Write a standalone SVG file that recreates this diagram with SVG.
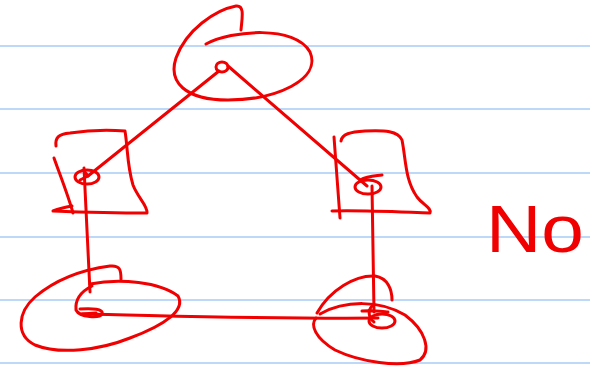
<svg xmlns="http://www.w3.org/2000/svg" width="590" height="371" viewBox="0 0 590 371">
<style>
.rule{stroke:#a8cdf5;stroke-width:1.5}
.ink{fill:none;stroke:#f00000;stroke-width:3;stroke-linecap:round;stroke-linejoin:round}
.lbl{font-family:"Liberation Sans",Arial,sans-serif;fill:#f00000}
</style>
<rect width="590" height="371" fill="#fff"/>
<g id="paper">
<line class="rule" x1="0" y1="46" x2="590" y2="46"/>
<line class="rule" x1="0" y1="109" x2="590" y2="109"/>
<line class="rule" x1="0" y1="173" x2="590" y2="173"/>
<line class="rule" x1="0" y1="237" x2="590" y2="237"/>
<line class="rule" x1="0" y1="300" x2="590" y2="300"/>
<line class="rule" x1="0" y1="363" x2="590" y2="363"/>
</g>
<g id="connectors" class="ink">
<path d="M219,71 L88,176"/>
<path d="M88,176 L80,180 M88,176 L84,171"/>
<path d="M228,66 L367,186"/>
<path d="M84,168 L90,292"/>
<path d="M372,186 L374,312"/>
<path d="M82,314 C150,315 260,319 378,318"/>
</g>
<g id="node-top" class="ink">
<path d="M206,44 C232,30 295,25 310,52 C322,80 275,100 228,100 C185,100 168,82 176,58 C186,30 215,10 236,6 C245,5 242,18 241,30"/>
<ellipse cx="222" cy="67" rx="6" ry="5"/>
</g>
<g id="node-left-box" class="ink">
<path d="M56,146 C55,138 58,134 70,133 C90,130 110,130 125,131 C128,150 127,165 133,185 C138,198 148,206 147,213 C120,213 80,212 53,211 C58,209 66,207 72,206"/>
<path d="M54,158 C60,175 68,195 73,213"/>
<ellipse cx="87" cy="177" rx="12" ry="7"/>
</g>
<g id="node-right-box" class="ink">
<path d="M334,137 C336,165 338,190 340,218"/>
<path d="M341,141 C342,134 350,132 365,131 C385,130 398,131 402,140 C406,160 405,180 417,197 C423,205 432,208 430,213 C400,212 360,210 332,211"/>
<ellipse cx="368" cy="187" rx="13" ry="7"/>
<path d="M360,180 C368,176 376,176 382,175"/>
</g>
<g id="node-bottom-left" class="ink">
<path d="M90,284 C120,278 160,282 178,296 C186,310 165,325 130,338 C100,350 60,355 35,345 C15,335 18,312 35,297 C55,280 80,270 110,266 C120,265 121,270 121,279"/>
<path d="M92,286 C80,292 75,300 76,310 C80,318 100,318 102,314 C104,309 92,308 80,309"/>
<path d="M82,314 L96,313"/>
</g>
<g id="node-bottom-right" class="ink">
<path d="M317,313 C330,290 355,275 375,276 C388,278 392,290 392,300"/>
<path d="M320,314 C345,300 380,300 405,315 C425,330 432,350 420,360 C400,368 360,362 335,350 C315,338 310,325 316,318"/>
<ellipse cx="382" cy="321" rx="13" ry="7"/>
<path d="M362,311 C370,310 378,311 388,312 M372,306 C368,310 368,318 374,322"/>
</g>
<g id="label-no">
<text class="lbl" x="486" y="252" font-size="66" textLength="98" lengthAdjust="spacingAndGlyphs">No</text>
</g>
</svg>
